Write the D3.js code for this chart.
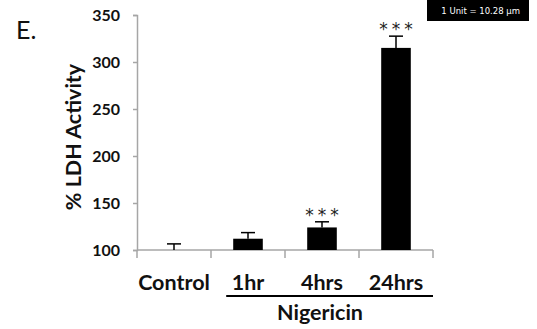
<!DOCTYPE html>
<html>
<head>
<meta charset="utf-8">
<script src="https://cdn.jsdelivr.net/npm/d3@7"></script>
<style>
  html, body { margin: 0; padding: 0; background: #fff; }
  svg { display: block; }
</style>
</head>
<body>
<svg id="chart" width="537" height="329"></svg>
<script>
// LDH release after nigericin treatment
const categories = ["Control", "1hr", "4hrs", "24hrs"];
const ldhActivity = [100, 112, 124, 315];
const ldhError = [6.5, 6.5, 6, 12.5];
const significance = ["", "", "***", "***"];
const yTicks = [100, 150, 200, 250, 300, 350];
const groupLabel = "Nigericin";
const groupMembers = ["1hr", "4hrs", "24hrs"];

const svg = d3.select("#chart");
const font = "Lato, 'Open Sans', sans-serif";
const axisGrey = "#a6a6a6";

const x = d3.scaleBand()
  .domain(categories)
  .range([137, 433])
  .paddingInner(0.6)
  .paddingOuter(0.3);

const y = d3.scaleLinear().domain([100, 350]).range([250, 15]);

const step = x.step();
const baseY = y(100);

// Panel letter
svg.append("text")
  .attr("x", 16).attr("y", 38.5)
  .attr("font-family", font).attr("font-size", 25)
  .attr("fill", "#111")
  .text("E.");

// Scale bar box in the corner
svg.append("rect")
  .attr("x", 427).attr("y", 0).attr("width", 102).attr("height", 21)
  .attr("fill", "#000");
svg.append("text")
  .attr("x", 520).attr("y", 13.5)
  .attr("text-anchor", "end")
  .attr("font-family", "'DejaVu Sans', sans-serif").attr("font-size", 8.5)
  .attr("fill", "#fff")
  .text("1 Unit = 10.28 µm");

// Y axis
const yAxis = d3.axisLeft(y).tickValues(yTicks).tickSize(4).tickPadding(13)
  .tickFormat(d3.format("d"));
const gy = svg.append("g").attr("transform", "translate(137,0)").call(yAxis);
gy.select(".domain").attr("stroke", axisGrey).attr("stroke-width", 1.5);
gy.selectAll(".tick line").attr("stroke", axisGrey).attr("stroke-width", 1.5);
gy.selectAll(".tick text")
  .attr("font-family", font).attr("font-size", 16).attr("font-weight", "bold")
  .attr("fill", "#111");

// X axis line and band-boundary ticks
svg.append("line")
  .attr("x1", x.range()[0]).attr("x2", x.range()[1])
  .attr("y1", baseY).attr("y2", baseY)
  .attr("stroke", axisGrey).attr("stroke-width", 1.5);
const boundaries = categories.map(c => x(c) - x.paddingOuter() * step).concat([x.range()[1]]);
svg.selectAll(".xtick").data(boundaries).join("line")
  .attr("class", "xtick")
  .attr("x1", d => d).attr("x2", d => d)
  .attr("y1", baseY).attr("y2", baseY + 8)
  .attr("stroke", axisGrey).attr("stroke-width", 1.5);

// Bars
svg.selectAll(".bar").data(categories).join("rect")
  .attr("class", "bar")
  .attr("x", d => x(d))
  .attr("y", (d, i) => y(ldhActivity[i]))
  .attr("width", x.bandwidth())
  .attr("height", (d, i) => baseY - y(ldhActivity[i]))
  .attr("fill", "#000");

// Error bars (upper only)
const cx = d => x(d) + x.bandwidth() / 2;
svg.selectAll(".err").data(categories).join("line")
  .attr("class", "err")
  .attr("x1", cx).attr("x2", cx)
  .attr("y1", (d, i) => y(ldhActivity[i]))
  .attr("y2", (d, i) => y(ldhActivity[i] + ldhError[i]))
  .attr("stroke", "#000").attr("stroke-width", 1.5);
svg.selectAll(".cap").data(categories).join("line")
  .attr("class", "cap")
  .attr("x1", d => cx(d) - 7).attr("x2", d => cx(d) + 7)
  .attr("y1", (d, i) => y(ldhActivity[i] + ldhError[i]))
  .attr("y2", (d, i) => y(ldhActivity[i] + ldhError[i]))
  .attr("stroke", "#000").attr("stroke-width", 1.5);

// Significance stars
svg.selectAll(".sig").data(categories).join("text")
  .attr("class", "sig")
  .attr("x", d => cx(d) + 2)
  .attr("y", (d, i) => y(ldhActivity[i] + ldhError[i]) - 1)
  .attr("text-anchor", "middle")
  .attr("font-family", "'DejaVu Sans', sans-serif").attr("font-size", 17)
  .attr("letter-spacing", 4)
  .attr("fill", "#222")
  .text((d, i) => significance[i]);

// Category labels
svg.selectAll(".cat").data(categories).join("text")
  .attr("class", "cat")
  .attr("x", cx)
  .attr("y", 290)
  .attr("text-anchor", "middle")
  .attr("font-family", font).attr("font-size", 21.5).attr("font-weight", "bold")
  .attr("fill", "#111")
  .text(d => d);

// Treatment group bracket
const gx0 = x(groupMembers[0]) - 7;
const gx1 = x.range()[1];
svg.append("line")
  .attr("x1", gx0).attr("x2", gx1)
  .attr("y1", 296).attr("y2", 296)
  .attr("stroke", "#000").attr("stroke-width", 2);
svg.append("text")
  .attr("x", 320).attr("y", 319.5)
  .attr("text-anchor", "middle")
  .attr("font-family", font).attr("font-size", 21.5).attr("font-weight", "bold")
  .attr("fill", "#111")
  .text(groupLabel);

// Y axis title
svg.append("text")
  .attr("transform", "translate(81,137) rotate(-90)")
  .attr("text-anchor", "middle")
  .attr("font-family", font).attr("font-size", 21.5).attr("font-weight", "bold")
  .attr("fill", "#111")
  .text("% LDH Activity");
</script>
</body>
</html>
